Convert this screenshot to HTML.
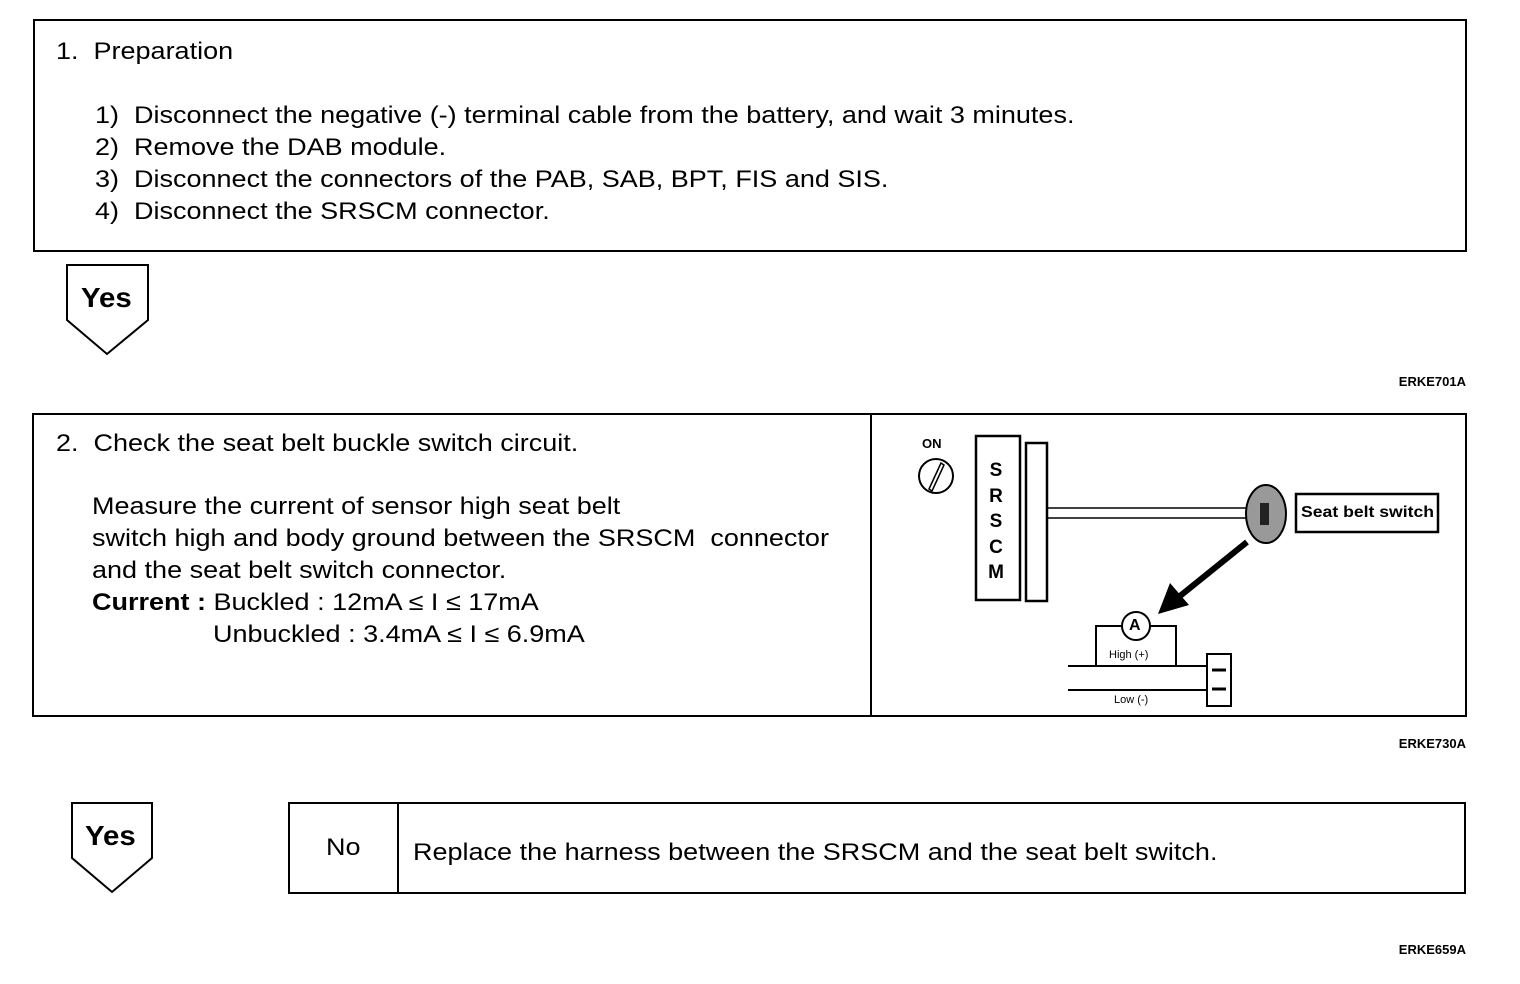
<!DOCTYPE html>
<html><head><meta charset="utf-8"><style>
html,body{margin:0;padding:0;background:#fff;}
body{width:1520px;height:984px;position:relative;overflow:hidden;font-family:"Liberation Sans",Arial,sans-serif;color:#000;}
.t{position:absolute;font-size:24px;white-space:nowrap;line-height:28px;transform:scaleX(1.125);transform-origin:0 0;}
.c{position:absolute;font-size:13px;font-weight:bold;white-space:nowrap;}
.e{position:absolute;font-size:13px;font-weight:bold;white-space:nowrap;right:54px;}
</style></head><body>
<svg width="1520" height="984" style="position:absolute;left:0;top:0" xmlns="http://www.w3.org/2000/svg">
<g fill="none" stroke="#000" stroke-width="2">
<rect x="34" y="20" width="1432" height="231"/>
<polygon points="67,265 148,265 148,320 107,354 67,320"/>
<rect x="33" y="414" width="1433" height="302"/>
<line x1="871" y1="414" x2="871" y2="716"/>
<polygon points="72,803 152,803 152,858 112,892 72,858"/>
<rect x="289" y="803" width="1176" height="90"/>
<line x1="398" y1="803" x2="398" y2="893"/>
<circle cx="936" cy="476" r="17"/>
<path d="M929,489 L941,463 L944,465 L932,491 Z" stroke-width="1.5"/>
<rect x="976" y="436" width="44" height="164" stroke-width="2.5"/>
<rect x="1026" y="443" width="21" height="158" stroke-width="2.5"/>
<line x1="1047" y1="508" x2="1252" y2="508" stroke-width="1.5"/>
<line x1="1047" y1="518" x2="1252" y2="518" stroke-width="1.5"/>
<rect x="1296" y="494" width="142" height="38" stroke-width="2.5"/>
<circle cx="1136" cy="626" r="14"/>
<polyline points="1096,666 1096,626 1122,626"/>
<polyline points="1150,626 1176,626 1176,666"/>
<line x1="1068" y1="666" x2="1207" y2="666"/>
<line x1="1068" y1="690" x2="1207" y2="690"/>
<rect x="1207" y="654" width="24" height="52"/>
</g>
<ellipse cx="1266" cy="514" rx="20" ry="29" fill="#999" stroke="#000" stroke-width="2"/>
<rect x="1260" y="503" width="9" height="22" fill="#222"/>
<line x1="1212" y1="670" x2="1226" y2="670" stroke="#000" stroke-width="3"/>
<line x1="1212" y1="689" x2="1226" y2="689" stroke="#000" stroke-width="3"/>
<line x1="1247" y1="542" x2="1180" y2="596" stroke="#000" stroke-width="6"/>
<polygon points="1158,614 1170,583 1189,605" fill="#000"/>
</svg>
<div class="t" style="left:56px;top:38px">1.&nbsp; Preparation</div>
<div class="t" style="left:95px;top:102px">1)&nbsp; Disconnect the negative (-) terminal cable from the battery, and wait 3 minutes.</div>
<div class="t" style="left:95px;top:134px">2)&nbsp; Remove the DAB module.</div>
<div class="t" style="left:95px;top:166px">3)&nbsp; Disconnect the connectors of the PAB, SAB, BPT, FIS and SIS.</div>
<div class="t" style="left:95px;top:198px">4)&nbsp; Disconnect the SRSCM connector.</div>
<div class="t" style="left:81px;top:284px;font-weight:bold;font-size:28px;transform:scaleX(1.05)">Yes</div>
<div class="e" style="top:374px">ERKE701A</div>
<div class="t" style="left:56px;top:430px">2.&nbsp; Check the seat belt buckle switch circuit.</div>
<div class="t" style="left:92px;top:493px">Measure the current of sensor high seat belt</div>
<div class="t" style="left:92px;top:525px">switch high and body ground between the SRSCM&nbsp; connector</div>
<div class="t" style="left:92px;top:557px">and the seat belt switch connector.</div>
<div class="t" style="left:92px;top:589px"><b>Current :</b> Buckled : 12mA ≤ I ≤ 17mA</div>
<div class="t" style="left:213px;top:621px">Unbuckled : 3.4mA ≤ I ≤ 6.9mA</div>
<div class="c" style="left:922px;top:436px;font-size:13px">ON</div>
<div style="position:absolute;left:987px;top:458px;font-size:19px;line-height:25.5px;text-align:center;width:18px;font-weight:bold">S R S C M</div>
<div class="c" style="left:1301px;top:504px;font-size:16px;transform:scaleX(1.1);transform-origin:0 0">Seat belt switch</div>
<div class="c" style="left:1129px;top:617px;font-size:16px">A</div>
<div class="c" style="left:1109px;top:649px;font-size:11px;font-weight:normal">High (+)</div>
<div class="c" style="left:1114px;top:694px;font-size:11px;font-weight:normal">Low (-)</div>
<div class="e" style="top:736px">ERKE730A</div>
<div class="t" style="left:85px;top:822px;font-weight:bold;font-size:28px;transform:scaleX(1.05)">Yes</div>
<div class="t" style="left:326px;top:834px">No</div>
<div class="t" style="left:413px;top:839px">Replace the harness between the SRSCM and the seat belt switch.</div>
<div class="e" style="top:942px">ERKE659A</div>
</body></html>
